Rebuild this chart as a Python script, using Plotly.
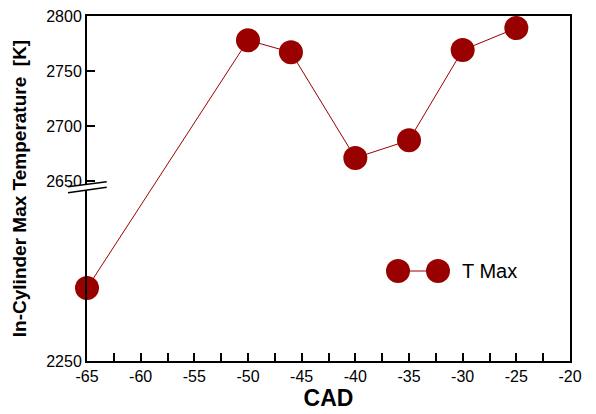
import plotly.graph_objects as go

# ---- data ----
cad = [-65, -50, -46, -40, -35, -30, -25]
t_max = [2412, 2778, 2767, 2671, 2687, 2769, 2789]
series_name = "T Max"

y_tick_values = [2250, 2650, 2700, 2750, 2800]
x_tick_values = [-65, -60, -55, -50, -45, -40, -35, -30, -25, -20]

# ---- broken y-axis: compress region below the break ----
BREAK = 2650
Y_MIN, Y_MAX = 2250, 2800
LOWER_SCALE = (180 / 400) / (55 / 50)  # lower segment px/K relative to upper


def to_display(v):
    return v if v >= BREAK else BREAK - (BREAK - v) * LOWER_SCALE


RED = "#990000"
FONT = "Arial, Liberation Sans, sans-serif"

fig = go.Figure()
fig.add_trace(go.Scatter(
    x=cad, y=[to_display(v) for v in t_max], mode="lines+markers",
    name=series_name,
    line=dict(color=RED, width=1),
    marker=dict(color=RED, size=24, line=dict(width=0)),
    showlegend=False, cliponaxis=False,
))

# page body has an 8px margin, so the figure is 8px smaller and offset
fig.update_layout(
    width=588, height=406,
    margin=dict(l=79, r=26, t=8, b=53),
    paper_bgcolor="white", plot_bgcolor="white",
    font=dict(family=FONT, size=16, color="black"),
)
fig.update_xaxes(
    range=[-65, -20], tickvals=x_tick_values,
    ticktext=[str(v) for v in x_tick_values], automargin=False,
    ticklabeloverflow="allow",
    ticks="inside", ticklen=8, tickwidth=1.5, tickcolor="black",
    minor=dict(dtick=2.5, tick0=-65, ticks="inside", ticklen=8, tickwidth=1.5, tickcolor="black"),
    showline=True, linewidth=2, linecolor="black", mirror=True,
    showgrid=False, zeroline=False,
    tickfont=dict(size=16),
    title=dict(text="<b>CAD</b>", font=dict(size=23), standoff=0),
)
fig.update_yaxes(
    range=[to_display(Y_MIN), Y_MAX], automargin=False,
    ticklabeloverflow="allow",
    tickvals=[to_display(v) for v in y_tick_values],
    ticktext=[str(v) for v in y_tick_values],
    ticks="inside", ticklen=8, tickwidth=1.5, tickcolor="black",
    showline=True, linewidth=2, linecolor="black", mirror=True,
    showgrid=False, zeroline=False,
    tickfont=dict(size=16),
    title=dict(text="<b>In-Cylinder Max Temperature  [K]</b>", font=dict(size=19), standoff=15),
)

# ---- axis break marks ----
W, H, L, B = 483, 345, 87, 361


def px(xp):
    return (xp - L) / W


def py(yp):
    return (B - yp) / H


fig.add_shape(type="path", xref="paper", yref="paper",
              path=f"M {px(68)} {py(186.7)} L {px(106.7)} {py(181.7)} L {px(106.7)} {py(187.3)} L {px(68)} {py(192.7)} Z",
              fillcolor="white", line=dict(width=0), layer="above")
for y0, y1 in [(186.7, 181.7), (192.7, 187.3)]:
    fig.add_shape(type="line", xref="paper", yref="paper",
                  x0=px(68), y0=py(y0), x1=px(106.7), y1=py(y1),
                  line=dict(color="black", width=1.5), layer="above")

# ---- legend (two markers joined by a line) ----
lx1, lx2, ly = 398, 438, 271
fig.add_shape(type="line", xref="paper", yref="paper",
              x0=px(lx1), y0=py(ly), x1=px(lx2), y1=py(ly),
              line=dict(color=RED, width=1))
for cx in (lx1, lx2):
    fig.add_shape(type="circle", xref="paper", yref="paper",
                  xsizemode="pixel", ysizemode="pixel",
                  xanchor=px(cx), yanchor=py(ly),
                  x0=-12, x1=12, y0=-12, y1=12,
                  fillcolor=RED, line=dict(width=0))
fig.add_annotation(xref="paper", yref="paper", x=px(460), y=py(ly),
                   text=series_name, showarrow=False, xanchor="left", yanchor="middle",
                   font=dict(size=20, color="black"))

fig.write_html("out.html")
